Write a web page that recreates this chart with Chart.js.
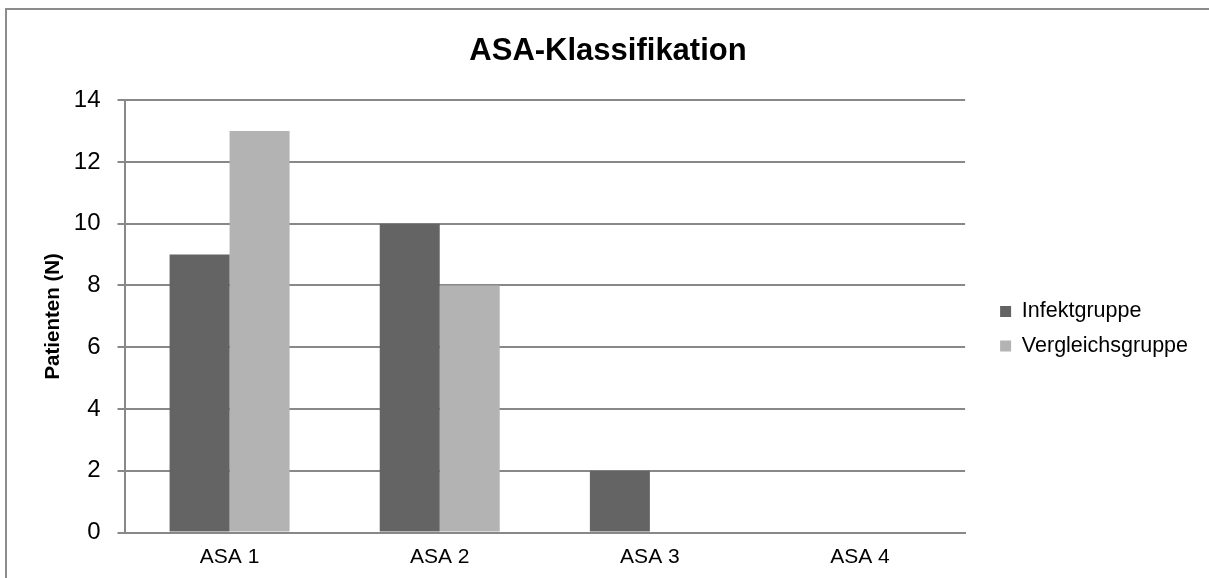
<!DOCTYPE html>
<html>
<head>
<meta charset="utf-8">
<script src="https://cdn.jsdelivr.net/npm/chart.js@4"></script>
<style>
  body { margin: 0; background: #fff; }
  #frame {
    position: absolute; left: 5px; top: 8px;
    width: 1202px; height: 570px;
    border-left: 2px solid #8c8c8c; border-top: 2px solid #8c8c8c;
  }
</style>
</head>
<body>
<div id="frame"><canvas id="asaChart" width="1202" height="570"></canvas></div>
<script>
// Daten
const categories = ['ASA 1', 'ASA 2', 'ASA 3', 'ASA 4'];
const infektgruppe = [9, 10, 2, 0];
const vergleichsgruppe = [13, 8, 0, 0];
const yTicks = [0, 2, 4, 6, 8, 10, 12, 14];

const fontFamily = '"Liberation Sans", Arial, sans-serif';
const lineColor = '#888888';

// legend: some empty room on its right, and it sits a bit away from the plot area
const legendShift = {
    id: 'legendShift',
    beforeUpdate(chart) {
        const lg = chart.legend;
        if (lg && !lg._widened) {
            const fit = lg.fit;
            lg.fit = function () { fit.call(this); this.width += 33; };
            lg._widened = true;
        }
    },
    afterLayout(chart) {
        const lg = chart.legend;
        if (!lg) return;
        lg.left += 22; lg.right += 22;
        lg.top += 39; lg.bottom += 39;
    }
};

const ctx = document.getElementById('asaChart').getContext('2d');
new Chart(ctx, {
    type: 'bar',
    data: {
        labels: categories,
        datasets: [{
            label: 'Infektgruppe',
            data: infektgruppe,
            backgroundColor: '#646464',
            categoryPercentage: 0.571,
            barPercentage: 1
        }, {
            label: 'Vergleichsgruppe',
            data: vergleichsgruppe,
            backgroundColor: '#b3b3b3',
            categoryPercentage: 0.571,
            barPercentage: 1
        }]
    },
    options: {
        responsive: false,
        animation: false,
        layout: { padding: { left: 0, right: 0, top: 0, bottom: 10.5 } },
        plugins: {
            title: {
                display: true,
                text: 'ASA-Klassifikation',
                color: '#000',
                font: { family: fontFamily, size: 31, weight: 'bold' },
                padding: { top: 23, bottom: 30 }
            },
            legend: {
                position: 'right',
                labels: {
                    color: '#000',
                    font: { family: fontFamily, size: 21.5 },
                    boxWidth: 11,
                    boxHeight: 11,
                    padding: 13
                }
            },
            tooltip: { enabled: false }
        },
        scales: {
            x: {
                afterFit: (scale) => { scale.height = 37; },
                grid: { display: false, drawTicks: false, tickLength: 0 },
                border: { display: true, color: lineColor, width: 2 },
                ticks: {
                    color: '#000',
                    font: { family: fontFamily, size: 21 },
                    padding: 12
                }
            },
            y: {
                min: 0,
                max: 14,
                afterBuildTicks: (scale) => { scale.ticks = yTicks.map(v => ({ value: v })); },
                afterFit: (scale) => { scale.width = 117.5; },
                grid: { color: lineColor, lineWidth: 2, tickLength: 7 },
                border: { display: true, color: lineColor, width: 2 },
                ticks: {
                    color: '#000',
                    font: { family: fontFamily, size: 24 },
                    padding: 17
                },
                title: {
                    display: true,
                    text: 'Patienten (N)',
                    color: '#000',
                    font: { family: fontFamily, size: 20.5, weight: 'bold' },
                    padding: { top: 34, bottom: 8 }
                }
            }
        }
    },
    plugins: [legendShift]
});
</script>
</body>
</html>
